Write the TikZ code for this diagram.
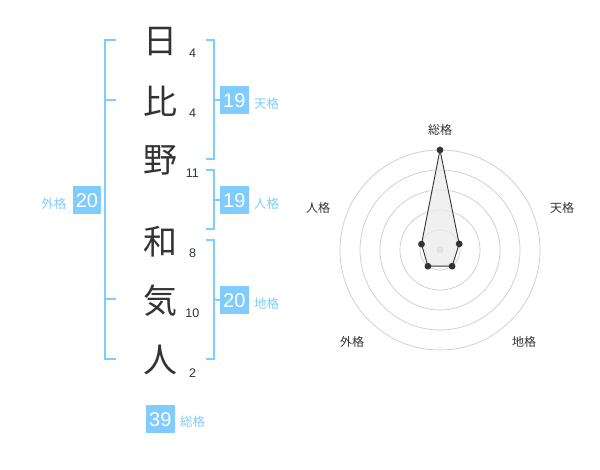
\documentclass[tikz,border=0pt]{standalone}
\usepackage{fontspec}
\setmainfont{Noto Sans CJK JP}
\newfontfamily\digitfont{Liberation Sans}
\definecolor{sky}{HTML}{80CCFF}
\definecolor{ink}{HTML}{333333}
\definecolor{ring}{HTML}{CCCCCC}
\tikzset{
  kanji/.style={font=\fontsize{34}{34}\selectfont, text=ink, inner sep=0pt},
  strokes/.style={font=\digitfont\fontsize{12.5}{12.5}\selectfont, text=ink, inner sep=0pt},
  valbox/.style={fill=sky, text=white, font=\digitfont\fontsize{20}{20}\selectfont, minimum width=28.7pt, minimum height=28.3pt, inner sep=0pt},
  kaku/.style={text=sky, font=\fontsize{12.5}{12.5}\selectfont, inner sep=0pt},
  br/.style={draw=sky, line width=2pt},
  circ/.style={draw=ring, line width=0.7pt},
  axlab/.style={text=ink, font=\fontsize{12}{12}\selectfont, inner sep=0pt},
  pt/.style={circle, fill=ink, inner sep=0pt, minimum size=6.8pt},
}
\begin{document}
\begin{tikzpicture}[x=1pt,y=-1pt]
\useasboundingbox[fill=white] (0,0) rectangle (600,470);
% kanji
\node[kanji] (k1) at (160,41.7) {日};
\node[kanji] (k2) at (160,101.7) {比};
\node[kanji] (k3) at (160,160.5) {野};
\node[kanji] (k4) at (160,241.7) {和};
\node[kanji] (k5) at (160,300.5) {気};
\node[kanji] (k6) at (160,360) {人};
% strokes
\node[strokes] (s1) at (192.7,53.3) {4};
\node[strokes] (s2) at (192.7,113.3) {4};
\node[strokes] (s3) at (192.3,173.3) {11};
\node[strokes] (s4) at (192.7,252.7) {8};
\node[strokes] (s5) at (192.3,312.7) {10};
\node[strokes] (s6) at (192.7,372.7) {2};
% value boxes
\node[valbox] (gai) at (87,200.2) {20};
\node[kaku, anchor=east] (gail) at (66.5,203.3) {外格};
\node[valbox] (ten) at (234.3,100.2) {19};
\node[kaku, anchor=west] (tenl) at (254,103.8) {天格};
\node[valbox] (jin) at (234.3,200.2) {19};
\node[kaku, anchor=west] (jinl) at (254,203.3) {人格};
\node[valbox] (chi) at (234.3,300.2) {20};
\node[kaku, anchor=west] (chil) at (254,304) {地格};
\node[valbox] (sou) at (160.3,419.2) {39};
\node[kaku, anchor=west] (soul) at (180,422) {総格};
% left bracket
\draw[br] (116,40) -- (105,40) -- (105,359.3) -- (116,359.3);
\draw[br] (105,100) -- (116,100);
\draw[br] (105,299.3) -- (116,299.3);
% right brackets
\draw[br] (205.7,40) -- (214.3,40) -- (214.3,159.3) -- (205.7,159.3);
\draw[br] (214.3,100.2) -- (ten.west);
\draw[br] (205.7,170) -- (214.3,170) -- (214.3,229.3) -- (205.7,229.3);
\draw[br] (214.3,200.2) -- (jin.west);
\draw[br] (205.7,240) -- (214.3,240) -- (214.3,359.3) -- (205.7,359.3);
\draw[br] (214.3,299.3) -- (chi.west);
% radar
\coordinate (c) at (440,250);
\foreach \r in {20,40,60,80,100} \draw[circ] (c) circle[radius=\r];
\fill[ring] (c) circle[radius=3.6];
\coordinate (pS) at (440,150);
\coordinate (pT) at (459.2,243.9);
\coordinate (pC) at (452.1,266.2);
\coordinate (pG) at (427.9,266.2);
\coordinate (pJ) at (421.5,244.1);
\filldraw[fill=black!8, fill opacity=0.7, draw=ink, line width=0.9pt] (pS) -- (pT) -- (pC) -- (pG) -- (pJ) -- cycle;
\foreach \p in {pS,pT,pC,pG,pJ} \node[pt] at (\p) {};
\node[axlab] (lS) at (440,130) {総格};
\node[axlab] (lT) at (562,208) {天格};
\node[axlab] (lJ) at (318,208) {人格};
\node[axlab] (lG) at (352,342) {外格};
\node[axlab] (lC) at (524,342) {地格};
\end{tikzpicture}
\end{document}
